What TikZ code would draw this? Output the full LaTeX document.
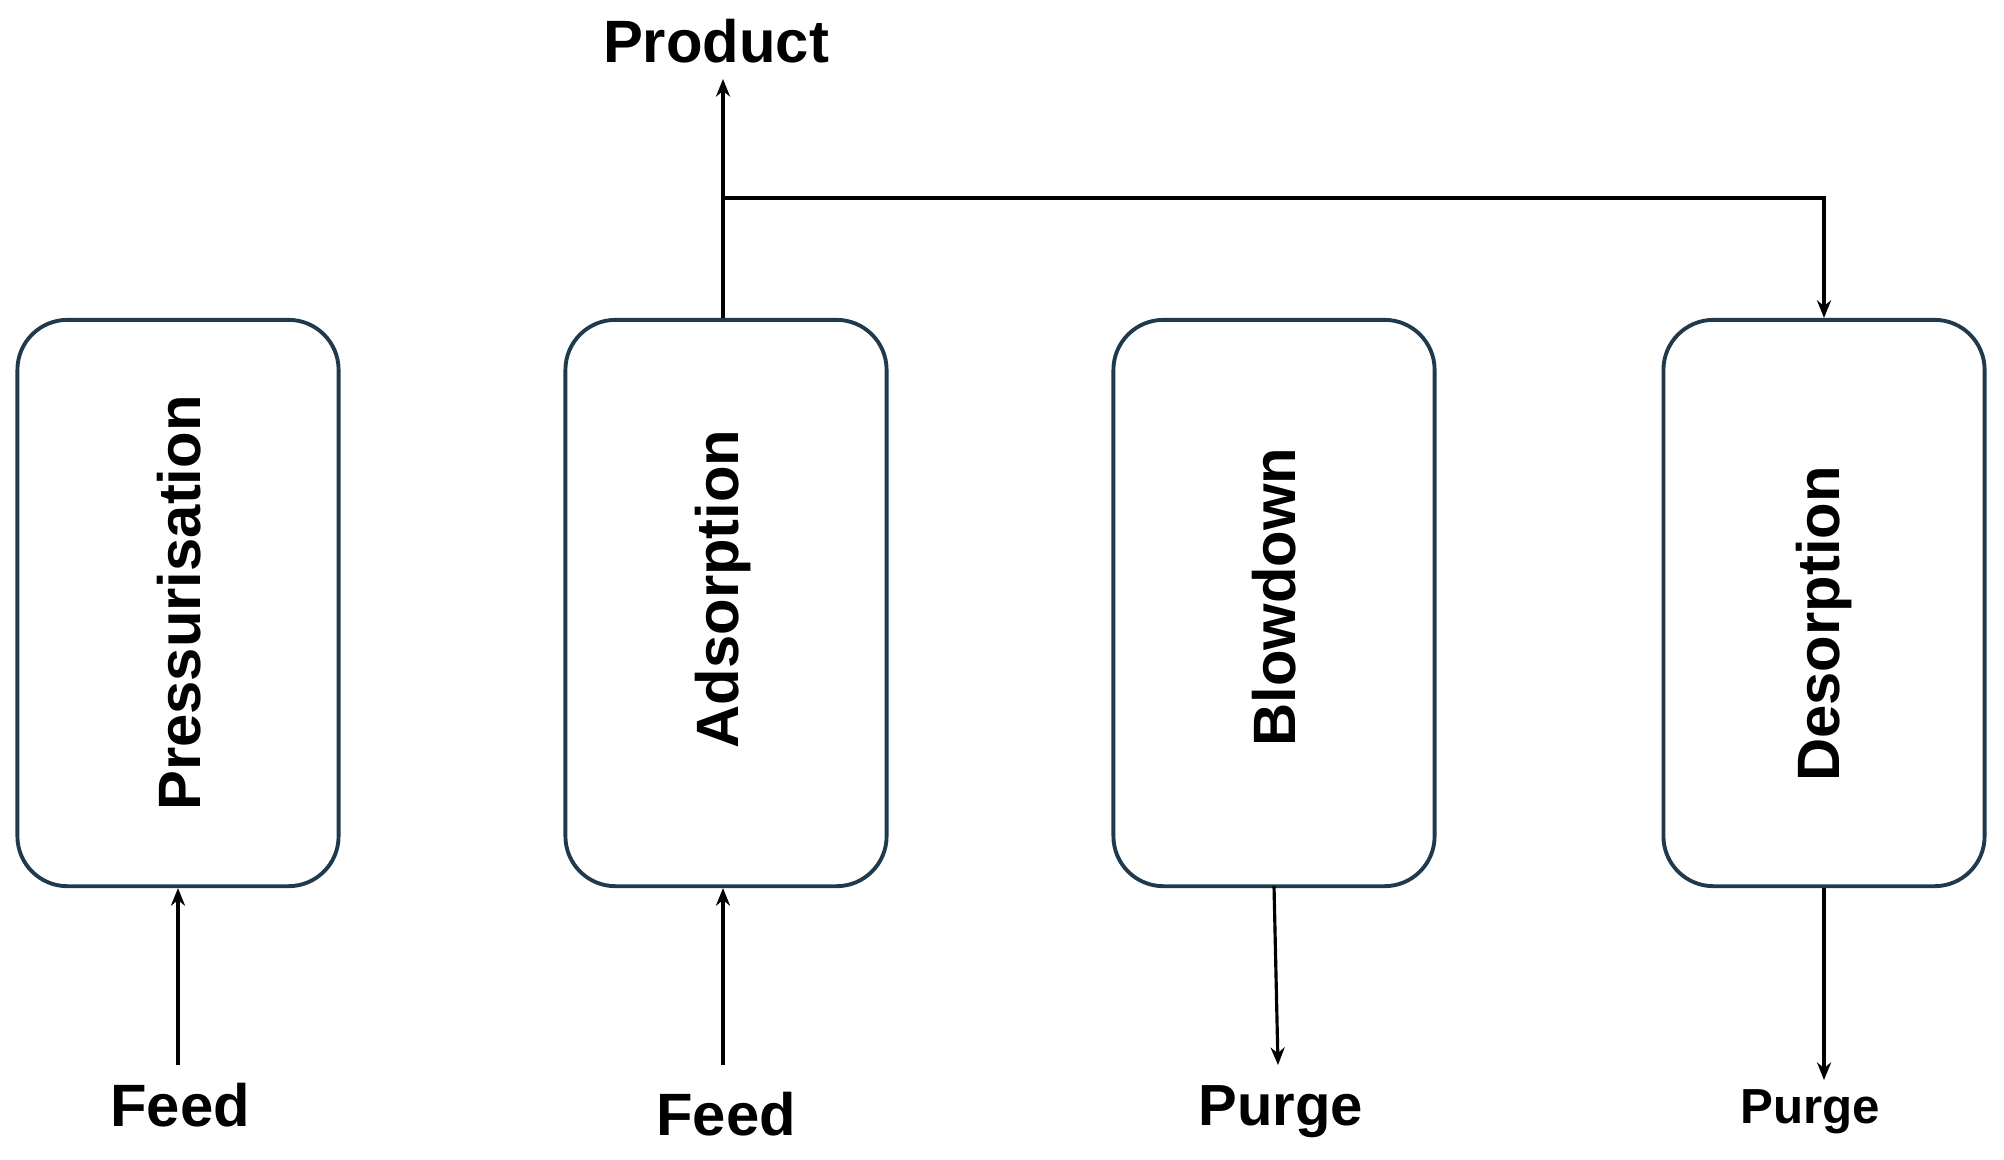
\documentclass[tikz,border=0pt]{standalone}
\usepackage{fontspec}
\setmainfont{Liberation Sans}
\usetikzlibrary{arrows.meta}
\definecolor{boxc}{HTML}{1F3A4D}
\begin{document}
\begin{tikzpicture}[x=0.01cm,y=-0.01cm,
  box/.style={draw=boxc,line width=1.1pt,rounded corners=0.5cm,minimum width=3.21cm,minimum height=5.66cm,inner sep=0pt},
  lbl/.style={font=\fontsize{17}{20}\selectfont\bfseries,rotate=90},
  ext/.style={font=\fontsize{17}{20}\selectfont\bfseries,inner sep=0pt},
  arr/.style={line width=0.9pt,-{Stealth[length=5pt,width=4pt]}}]
\useasboundingbox (0,0) rectangle (2004,1159);
\node[box] (p) at (178,603) {};
\node[box] (a) at (726,603) {};
\node[box] (b) at (1274,603) {};
\node[box] (d) at (1824,603) {};
\node[lbl] at (179,603) {Pressurisation};
\node[lbl] at (723,589) {Adsorption};
\node[lbl] at (1274,597) {Blowdown};
\node[lbl] at (1824,624) {Desorption};
\node[ext] (f1) at (180,1105) {Feed};
\node[ext] (f2) at (726,1114) {Feed};
\node[ext,font=\fontsize{16.5}{20}\selectfont\bfseries] (u1) at (1281,1112) {Purge};
\node[ext,font=\fontsize{14}{17}\selectfont\bfseries] (u2) at (1810,1112) {Purge};
\node[ext] (pr) at (716,41) {Product};
\coordinate (s1) at (178,1065);
\coordinate (s2) at (723,1065);
\coordinate (e3) at (1278,1065);
\coordinate (e4) at (1824,1080);
\coordinate (top) at (723,79);
\coordinate (j) at (723,198);
\draw[arr] (s1) -- (p.south -| s1);
\draw[arr] (s2) -- (a.south -| s2);
\draw[arr] (1274,886) -- (e3);
\draw[arr] (d.south) -- (e4);
\draw[arr] (a.north -| j) -- (top);
\draw[arr] (j) -- (1824,198) -- (d.north);
\end{tikzpicture}
\end{document}
